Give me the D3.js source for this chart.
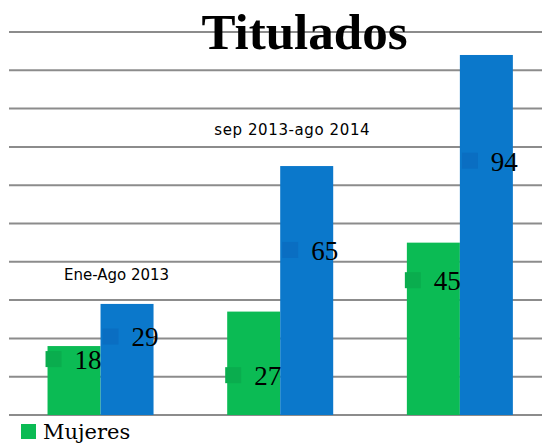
<!DOCTYPE html>
<html lang="es">
<head>
<meta charset="UTF-8">
<title>Titulados</title>
<script src="https://d3js.org/d3.v7.min.js"></script>
<style>
  body { margin: 0; background: #fff; }
  svg { display: block; }
</style>
</head>
<body>
<div id="chart"></div>
<script>
// data
const categories = ["Ene-Ago 2013", "sep 2013-ago 2014", ""]; // third label not shown
const seriesNames = ["Mujeres", "Hombres"];
const mujeres = [18, 27, 45];
const hombres = [29, 65, 94];
const yTicks = [0, 10, 20, 30, 40, 50, 60, 70, 80, 90, 100];

const width = 542, height = 447;
const colors = ["#0bbb54", "#0b78cb"];
const markerColors = ["#0aad4e", "#0a6ec2"];

const svg = d3.select("#chart").append("svg")
  .attr("width", width)
  .attr("height", height);

const x = d3.scaleBand()
  .domain(d3.range(categories.length))
  .range([10.7, 549.7])
  .paddingInner(0.41)
  .paddingOuter(0.205);

const xs = d3.scaleBand()
  .domain([0, 1])
  .range([0, x.bandwidth()]);

const y = d3.scaleLinear()
  .domain([0, 100])
  .range([415, 32]);

// gridlines
svg.selectAll("line.grid")
  .data(yTicks)
  .enter().append("line")
  .attr("class", "grid")
  .attr("x1", 9)
  .attr("x2", width)
  .attr("y1", d => y(d))
  .attr("y2", d => y(d))
  .style("stroke", "#8c8c8c")
  .style("stroke-width", 2);

// title sits on top of the first gridline
svg.append("text")
  .attr("x", 304.5)
  .attr("y", 49)
  .attr("text-anchor", "middle")
  .style("font-family", "'Liberation Serif', serif")
  .style("font-weight", "bold")
  .style("font-size", "51px")
  .style("fill", "#000")
  .text("Titulados");

const series = [mujeres, hombres];
const bars = [];
series.forEach((vals, s) => {
  vals.forEach((v, i) => bars.push({ s, i, v }));
});

svg.selectAll("rect.bar")
  .data(bars)
  .enter().append("rect")
  .attr("class", "bar")
  .attr("x", d => x(d.i) + xs(d.s))
  .attr("y", d => y(d.v))
  .attr("width", xs.bandwidth())
  .attr("height", d => y(0) - y(d.v))
  .style("fill", d => colors[d.s]);

// data labels sit at odd heights in the original, kept here in axis units
const labelLevel = [[14.6, 10.4, 35.2], [20.5, 43.1, 66.4]];

const labels = svg.selectAll("g.lbl")
  .data(bars)
  .enter().append("g")
  .attr("class", "lbl")
  .attr("transform", d => {
    const mx = x(d.i) + xs(d.s) + (d.s === 0 ? -2 : 2);
    return `translate(${mx},${y(labelLevel[d.s][d.i])})`;
  });

labels.append("rect")
  .attr("x", 0)
  .attr("y", -8)
  .attr("width", 16)
  .attr("height", 16)
  .style("fill", d => markerColors[d.s]);

labels.append("text")
  .attr("x", 29)
  .attr("y", 10)
  .style("font-family", "'Liberation Serif', serif")
  .style("font-size", "27px")
  .style("fill", "#000")
  .text(d => d.v);

// category names floating above the groups
const catLevel = [35.2, 73.1, 0];
const catShift = [16, 12, 0];

svg.selectAll("text.cat")
  .data(categories)
  .enter().append("text")
  .attr("class", "cat")
  .attr("x", (d, i) => x(i) + x.bandwidth() / 2 + catShift[i])
  .attr("y", (d, i) => y(catLevel[i]))
  .attr("text-anchor", "middle")
  .style("font-family", "'DejaVu Sans', sans-serif")
  .style("font-size", "15px")
  .style("letter-spacing", (d, i) => i === 1 ? "0.6px" : "0px")
  .style("fill", "#000")
  .text(d => d);

// legend: only the first entry fits on the page
const legend = svg.selectAll("g.legend")
  .data(seriesNames.slice(0, 1))
  .enter().append("g")
  .attr("class", "legend")
  .attr("transform", (d, i) => `translate(21,${424 + i * 26})`);

legend.append("rect")
  .attr("width", 15)
  .attr("height", 15)
  .style("fill", (d, i) => colors[i]);

legend.append("text")
  .attr("x", 22)
  .attr("y", 15)
  .style("font-family", "'DejaVu Serif', serif")
  .style("font-size", "21px")
  .style("fill", "#000")
  .text(d => d);
</script>
</body>
</html>
